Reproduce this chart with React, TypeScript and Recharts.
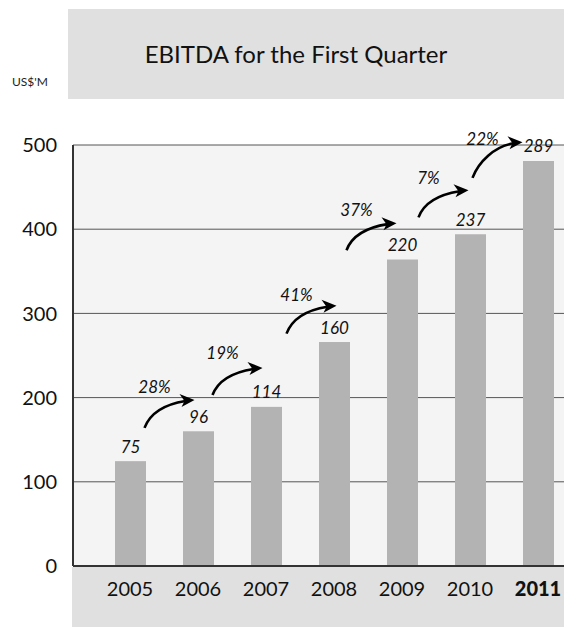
import React from 'react';
import { BarChart, Bar, XAxis, YAxis, CartesianGrid } from 'recharts';

const years = ['2005', '2006', '2007', '2008', '2009', '2010', '2011'];
const barValues = [124.5, 160, 189, 266, 364, 394, 481];
const valueLabels = ['75', '96', '114', '160', '220', '237', '289'];
const growthLabels = ['', '28%', '19%', '41%', '37%', '7%', '22%'];
const arrowStart = [0, 164, 203, 276, 375, 414, 461];
const arrowEnd = [0, 196, 234, 308, 406, 445, 502];
const growthLabelAt = [0, 213, 254, 323, 423, 461, 508];
const yTicks = [0, 100, 200, 300, 400, 500];

const data = years.map((year, i) => ({
  year,
  value: barValues[i],
  label: valueLabels[i],
  growth: growthLabels[i],
  from: arrowStart[i],
  to: arrowEnd[i],
  gAt: growthLabelAt[i],
}));

// horizontal nudges for the growth annotations (layout only)
const arrowShift = [0, 0, 0, 6, -2, 2, -12];

const FONT = 'Lato, "Open Sans", sans-serif';

const BarShape = (props: any) => {
  const { x, y, width, height, payload, index } = props;
  const bottom = y + height;
  const per = height / payload.value;
  const toPx = (v: number) => bottom - v * per;
  const cx = x + width / 2;
  const els: any[] = [];
  els.push(<rect key="r" x={x} y={y} width={width} height={height} fill="#b3b3b3" />);
  els.push(
    <text key="v" x={cx} y={y - 15} textAnchor="middle" dominantBaseline="central"
      fontFamily={FONT} fontStyle="italic" fontSize={17} fill="#111">{payload.label}</text>
  );
  if (payload.growth) {
    const sh = arrowShift[index] || 0;
    const sx = cx - 54 + sh;
    const sy = toPx(payload.from);
    const ex = cx - 4 + sh;
    const ey = toPx(payload.to);
    els.push(
      <path key="a" d={`M ${sx} ${sy} C ${sx + 6} ${sy - 16}, ${ex - 28} ${ey + 3}, ${ex - 9} ${ey}`}
        fill="none" stroke="#000" strokeWidth={2.6} />
    );
    els.push(
      <polygon key="h" points={`${ex},${ey - 1} ${ex - 15},${ey - 7} ${ex - 10},${ey} ${ex - 13},${ey + 6}`} fill="#000" />
    );
    els.push(
      <text key="g" x={cx - 44 + sh} y={toPx(payload.gAt)} textAnchor="middle" dominantBaseline="central"
        fontFamily={FONT} fontStyle="italic" fontSize={17} fill="#111">{payload.growth}</text>
    );
  }
  return <g>{els}</g>;
};

const XTick = (props: any) => {
  const { x, y, payload } = props;
  const bold = payload.value === '2011';
  return (
    <text x={x} y={y + 20} textAnchor="middle" dominantBaseline="central" fontFamily={FONT}
      fontSize={20} fontWeight={bold ? 900 : 400} fill="#111">{payload.value}</text>
  );
};

export default function App() {
  return (
    <div style={{ position: 'absolute', left: 0, top: 0, width: 564, height: 627, overflow: 'hidden', background: '#fff', fontFamily: FONT }}>
      <div style={{ position: 'absolute', left: 68, top: 9, width: 496, height: 90, background: '#e0e0e0' }} />
      <div style={{ position: 'absolute', left: 68, top: 9, width: 456, height: 90, display: 'flex', alignItems: 'center', justifyContent: 'center', fontSize: 24, color: '#111' }}>
        <span style={{ marginTop: -2 }}>EBITDA for the First Quarter</span>
      </div>
      <div style={{ position: 'absolute', left: 12, top: 74, fontSize: 12, color: '#222' }}>US$'M</div>
      <div style={{ position: 'absolute', left: 72, top: 567, width: 492, height: 60, background: '#e0e0e0' }} />
      <div style={{ position: 'absolute', left: 0, top: 0 }}>
        <BarChart width={580} height={627} data={data} margin={{ top: 145, right: 8, bottom: 1, left: 0 }} barSize={31}>
          <CartesianGrid vertical={false} stroke="#555" strokeWidth={1} fill="#f4f4f4" fillOpacity={1} />
          <XAxis dataKey="year" height={60} padding={{ left: 23, right: 0 }} tickLine={false}
            axisLine={{ stroke: '#333', strokeWidth: 2 }} tickSize={0} tick={<XTick />} interval={0} />
          <YAxis domain={[0, 500]} ticks={yTicks} width={73} tickLine={false} tickSize={0} tickMargin={16}
            axisLine={{ stroke: '#333', strokeWidth: 2 }}
            tick={{ fontSize: 20, fill: '#111', fontFamily: FONT }} />
          <Bar dataKey="value" shape={<BarShape />} isAnimationActive={false} />
        </BarChart>
      </div>
    </div>
  );
}
